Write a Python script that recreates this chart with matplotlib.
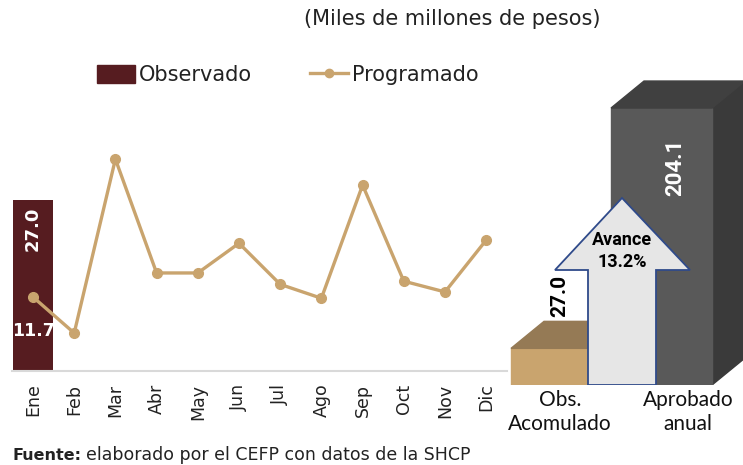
import matplotlib.pyplot as plt
from matplotlib.patches import Patch, Polygon, Rectangle
from matplotlib.lines import Line2D
import numpy as np

# data
meses = ['Ene', 'Feb', 'Mar', 'Abr', 'May', 'Jun', 'Jul', 'Ago', 'Sep', 'Oct', 'Nov', 'Dic']
observado = [27.0] + [np.nan] * 11
programado = [11.7, 6.0, 33.5, 15.5, 15.5, 20.2, 13.7, 11.5, 29.4, 14.2, 12.5, 20.7]
obs_acumulado = 27.0
aprobado_anual = 204.1
cats_der = ['Obs.\nAcomulado', 'Aprobado\nanual']

c_obs = '#561C20'
c_prog = '#C9A46E'

W, H = 743, 465
fig = plt.figure(figsize=(W / 100, H / 100), dpi=100)

def px_box(x0, y_top, x1, y_bot):
    return [x0 / W, 1 - y_bot / H, (x1 - x0) / W, (y_bot - y_top) / H]

# ---- left chart: monthly
ax = fig.add_axes(px_box(12.4, 118, 506.8, 371))
x = np.arange(len(meses))
ax.bar(x, observado, width=0.95, color=c_obs, zorder=1)
ax.plot(x, programado, color=c_prog, lw=2.4, marker='o', ms=7, zorder=3)
ax.set_xlim(-0.5, 11.5)
ax.set_ylim(0, 40)
ax.set_yticks([])
ax.set_xticks(x)
ax.set_xticklabels(meses, rotation=90, fontsize=12.5, color='#222222')
ax.tick_params(axis='x', length=0, pad=9)
for s in ['top', 'left', 'right']:
    ax.spines[s].set_visible(False)
ax.spines['bottom'].set_color('#D9D9D9')
ax.spines['bottom'].set_linewidth(1.5)
ax.text(0, observado[0] - 4.5, f'{observado[0]:.1f}', rotation=90, color='white',
        fontsize=13, fontweight='bold', ha='center', va='center', zorder=4)
ax.text(0, programado[0] - 5.4, f'{programado[0]:.1f}', color='white',
        fontsize=12.5, fontweight='bold', ha='center', va='center', zorder=4)

# ---- right chart: accumulated vs annual (pseudo 3D)
scale = 1.357  # px per unit
axr = fig.add_axes(px_box(500, 60, 743, 385))
axr.set_xlim(500, 743)
axr.set_ylim(0, 325 / scale)
axr.axis('off')
dx, dy = 33, 27 / scale

def bar3d(x0, w, h, front, top, side):
    axr.add_patch(Rectangle((x0, 0), w, h, color=front, zorder=2))
    axr.add_patch(Polygon([(x0, h), (x0 + dx, h + dy), (x0 + w + dx, h + dy), (x0 + w, h)],
                          color=top, zorder=2))
    axr.add_patch(Polygon([(x0 + w, 0), (x0 + w + dx, dy), (x0 + w + dx, h + dy), (x0 + w, h)],
                          color=side, zorder=1))

bar3d(511, 80, obs_acumulado, '#C9A46E', '#957A55', '#957A55')
bar3d(611, 101, aprobado_anual, '#595959', '#404040', '#3A3A3A')

# arrow
sh = (385 - 270) / scale
tip = (385 - 198) / scale
arrow = Polygon([(588, 0), (588, sh), (555, sh), (622, tip), (690, sh), (656, sh), (656, 0)],
                facecolor='#E6E6E6', edgecolor='#2F4A8A', lw=1.3, zorder=3)
axr.add_patch(arrow)

bold = dict(fontweight='bold', family='Roboto')
avance = obs_acumulado / aprobado_anual * 100
axr.text(622, (385 - 251) / scale, f'Avance\n{avance:.1f}%', ha='center', va='center',
         fontsize=13, linespacing=1.3, zorder=4, **bold)
axr.text(560, obs_acumulado + 38.5, f'{obs_acumulado:.1f}', rotation=90, ha='center', va='center',
         fontsize=15, zorder=4, **bold)
axr.text(675, aprobado_anual - 44, f'{aprobado_anual:.1f}', rotation=90, ha='center', va='center',
         fontsize=16, color='white', zorder=4, **bold)

fig.text(560 / W, 1 - 412 / H, cats_der[0], ha='center', va='center', fontsize=15,
         family='Lato', linespacing=1.25, color='#111111')
fig.text(688 / W, 1 - 412 / H, cats_der[1], ha='center', va='center', fontsize=15,
         family='Lato', linespacing=1.25, color='#111111')

# ---- titles / legend / source
fig.text(452 / W, 1 - 19 / H, '(Miles de millones de pesos)', ha='center', va='center',
         fontsize=15, color='#222222')
handles = [Patch(color=c_obs, label='Observado'),
           Line2D([], [], color=c_prog, lw=2.4, marker='o', ms=6, label='Programado')]
fig.legend(handles=handles, loc='center', bbox_to_anchor=(288 / W, 1 - 75 / H), ncol=2,
           frameon=False, fontsize=15, handlelength=1.8, handleheight=1.0,
           columnspacing=2.8, handletextpad=0.2, labelcolor='#222222')

fig.text(12 / W, 1 - 455 / H, 'Fuente:', fontsize=11.5, fontweight='bold', va='center',
         color='#222222')
fig.text(86 / W, 1 - 455 / H, 'elaborado por el CEFP con datos de la SHCP', fontsize=12.5,
         va='center', color='#222222')

fig.savefig('out.png', dpi=100)
